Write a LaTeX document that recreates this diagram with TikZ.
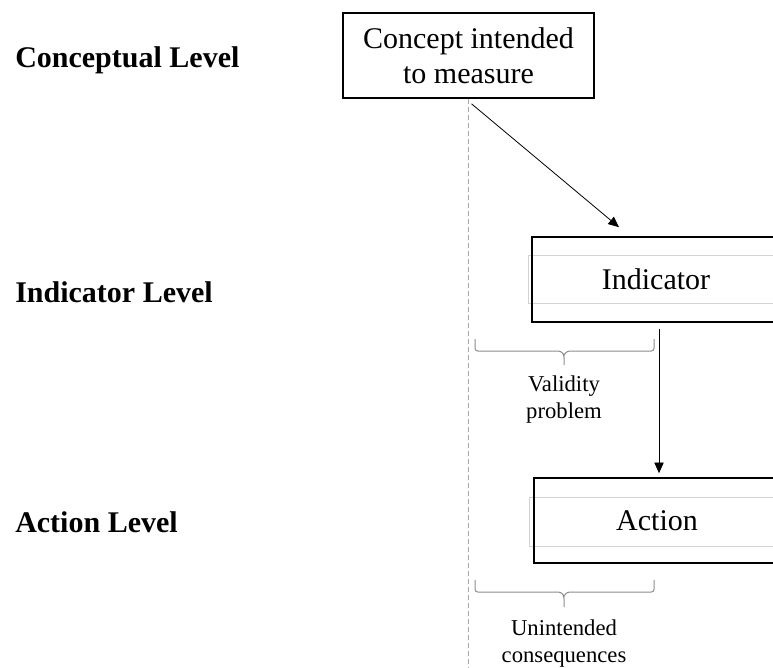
\documentclass[tikz,border=0pt]{standalone}
\usepackage{fontspec}
\setmainfont{Liberation Serif}
\usetikzlibrary{arrows.meta}

\begin{document}
\begin{tikzpicture}[
    x=0.75pt, y=-0.75pt,
    level/.style={anchor=base west, inner sep=0pt, font=\fontsize{22.5}{27}\selectfont\bfseries},
    box/.style={draw, line width=1.2pt, align=center, font=\fontsize{22.5}{26.25}\selectfont},
    txtframe/.style={draw=gray!35, line width=0.6pt},
    arr/.style={-{Triangle[length=8pt,width=7pt]}, line width=0.6pt},
    brc/.style={draw=gray!90, line width=0.75pt, rounded corners=2pt},
    note/.style={align=center, font=\fontsize{17}{20.25}\selectfont}
]

% Marco de la figura
\useasboundingbox (0,0) rectangle (773,667);
\clip (0,0) rectangle (773,667);

% 1. Niveles (columna izquierda)
\node[level] (lvlconcept) at (15,67) {Conceptual Level};
\node[level] (lvlindicator) at (15,302) {Indicator Level};
\node[level] (lvlaction) at (15,532) {Action Level};

% 2. Cajas
\node[box, minimum width=188.25pt, minimum height=63.75pt] (concept) at (468.5,55.5) {Concept intended\\to measure};

% a) Indicador: marco gris interior y caja exterior
\node[txtframe, minimum width=196.5pt, minimum height=36pt] (indicatortxt) at (659,279) {};
\node[box, minimum width=186pt, minimum height=63.75pt] (indicator) at (656,279.5) {Indicator};

% b) Accion
\node[txtframe, minimum width=195.75pt, minimum height=36.75pt] (actiontxt) at (659.5,521.5) {};
\node[box, minimum width=184.5pt, minimum height=63.75pt] (action) at (657,520.5) {Action};

% 3. Linea guia discontinua
\coordinate (guideend) at (468.5,667);
\draw[gray!70, line width=0.75pt, dash pattern=on 3.75pt off 2.25pt] (concept.south) -- (guideend);

% 4. Flechas
\draw[arr] ([shift={(3,5)}]concept.south) -- ([shift={(-37,-9)}]indicator.north);
\draw[arr] ([shift={(3,6)}]indicator.south) -- ([shift={(2,-4)}]action.north);

% 5. Llaves y textos
\draw[brc] (475,339) |- (561,351) -- (564,355) -- (564,365);
\draw[brc] (654,339) |- (567,351) -- (564,355);
\node[note] (validity) at (564,400) {Validity\\problem};

\draw[brc] (475,580) |- (561,592) -- (564,596) -- (564,607);
\draw[brc] (654,580) |- (567,592) -- (564,596);
\node[note] (unintended) at (564,644) {Unintended\\consequences};

\end{tikzpicture}
\end{document}
